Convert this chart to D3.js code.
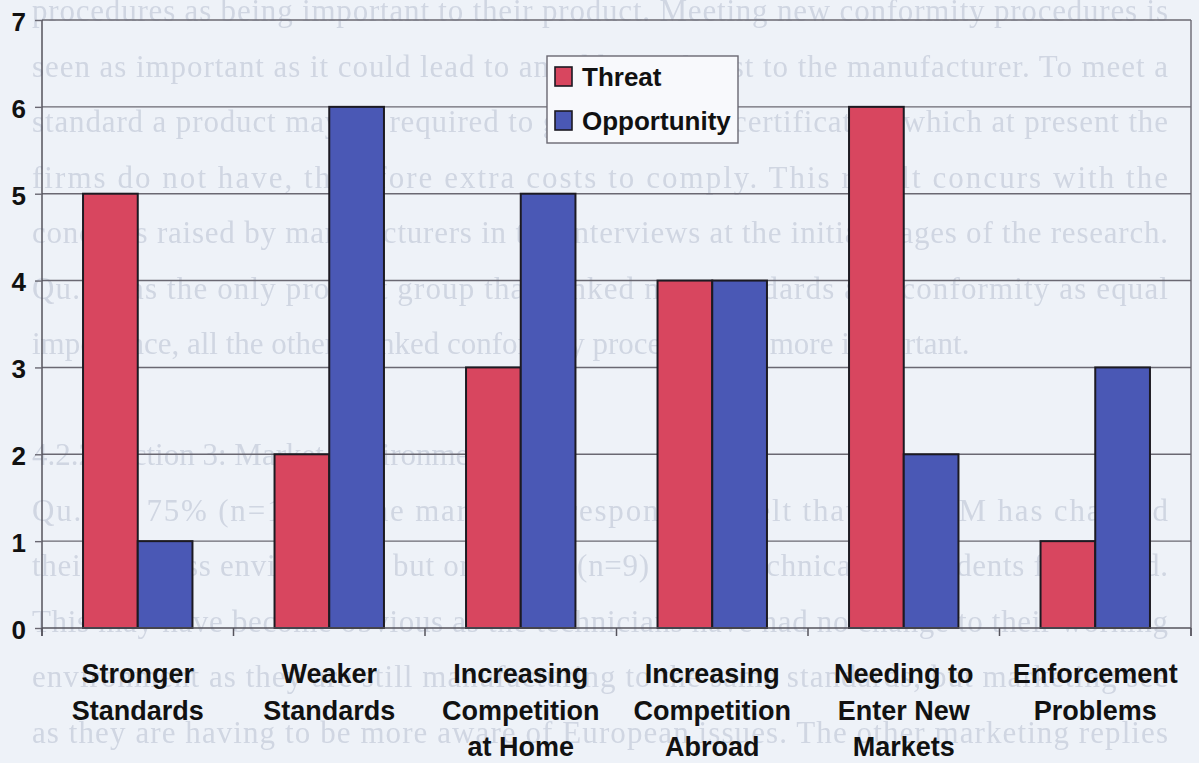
<!DOCTYPE html>
<html>
<head>
<meta charset="utf-8">
<script src="https://cdn.jsdelivr.net/npm/d3@7"></script>
<style>
  html, body { margin: 0; padding: 0; background: #eef2f8; }
  svg { display: block; }
</style>
</head>
<body>
<svg id="chart" width="1199" height="763"></svg>
<script>
// Chart data
const categories = [
  ["Stronger", "Standards"],
  ["Weaker", "Standards"],
  ["Increasing", "Competition", "at Home"],
  ["Increasing", "Competition", "Abroad"],
  ["Needing to", "Enter New", "Markets"],
  ["Enforcement", "Problems"]
];
const seriesNames = ["Threat", "Opportunity"];
const threatValues = [5, 2, 3, 4, 6, 1];
const opportunityValues = [1, 6, 5, 4, 2, 3];
const yTicks = [0, 1, 2, 3, 4, 5, 6, 7];

// Page text printed underneath the chart
const pageLines = [
  "procedures as being important to their product.  Meeting new conformity procedures is",
  "seen as important as it could lead to an additional cost to the manufacturer.  To meet a",
  "standard a product may be required to get additional certification which at present the",
  "firms do not have, therefore extra costs to comply.  This result concurs with the",
  "concerns raised by manufacturers in the interviews at the initial stages of the research.",
  "Qu.3 was the only product group that ranked new standards and conformity as equal",
  "importance, all the others ranked conformity procedures as more important.",
  "",
  "4.2.2  Section 3: Market Environment",
  "Qu. 15.  75% (n=15) of the marketing respondents felt that the SEM has changed",
  "their business environment but only 30% (n=9) of the technical respondents felt it had.",
  "This may have become obvious as the technicians have had no change to their working",
  "environment as they are still manufacturing to the same standards, but marketing see",
  "as they are having to be more aware of European issues.  The other marketing replies"
];
const pageJustified = [true, true, true, true, true, true, false, false, false, true, true, true, true, true];

const colors = { Threat: "#d8465f", Opportunity: "#4a58b5" };

const svg = d3.select("#chart");

const defs = svg.append("defs");
defs.append("filter").attr("id", "soft")
  .append("feGaussianBlur").attr("stdDeviation", 0.7);

// Faint page text layer
const pageG = svg.append("g").attr("class", "page-text").attr("filter", "url(#soft)");
pageLines.forEach((line, i) => {
  if (!line) return;
  const t = pageG.append("text")
    .attr("x", 32)
    .attr("y", 21 + 55.5 * i)
    .attr("font-family", "Liberation Serif, Times New Roman, serif")
    .attr("font-size", 31)
    .attr("fill", "#d0d6e2")
    .text(line);
  if (pageJustified[i]) {
    t.attr("textLength", 1136).attr("lengthAdjust", "spacing");
  }
});

// Scales
const plot = { left: 42, right: 1191, top: 20, bottom: 628 };
const x0 = d3.scaleBand()
  .domain(d3.range(categories.length))
  .range([plot.left, plot.right])
  .paddingInner(0).paddingOuter(0);
const x1 = d3.scaleBand()
  .domain(seriesNames)
  .range([0, x0.bandwidth()])
  .paddingInner(0).paddingOuter(0.75);
const y = d3.scaleLinear().domain([0, 7]).range([plot.bottom, plot.top]);

// Gridlines
svg.append("g")
  .selectAll("line")
  .data(yTicks.filter(d => d > 0))
  .join("line")
  .attr("x1", plot.left).attr("x2", plot.right)
  .attr("y1", d => y(d)).attr("y2", d => y(d))
  .attr("stroke", "#6a6872").attr("stroke-width", 1.4);

// Right border of plot area
svg.append("line")
  .attr("x1", plot.right).attr("x2", plot.right)
  .attr("y1", plot.top).attr("y2", plot.bottom + 8)
  .attr("stroke", "#6a6872").attr("stroke-width", 1.4);

// Bars
const rows = categories.map((c, i) => ({
  i,
  values: [
    { key: "Threat", value: threatValues[i] },
    { key: "Opportunity", value: opportunityValues[i] }
  ]
}));
svg.append("g")
  .selectAll("g")
  .data(rows)
  .join("g")
  .attr("transform", d => `translate(${x0(d.i)},0)`)
  .selectAll("rect")
  .data(d => d.values)
  .join("rect")
  .attr("x", d => x1(d.key))
  .attr("width", x1.bandwidth())
  .attr("y", d => y(d.value))
  .attr("height", d => y(0) - y(d.value))
  .attr("fill", d => colors[d.key])
  .attr("stroke", "#1c1a22")
  .attr("stroke-width", 2);

// Y axis
const yAxis = svg.append("g")
  .attr("transform", `translate(${plot.left},0)`)
  .call(d3.axisLeft(y).tickValues(yTicks).tickSize(7).tickFormat(d3.format("d")));
yAxis.select(".domain")
  .attr("stroke", "#55535c").attr("stroke-width", 1.5)
  .attr("d", `M0,${plot.top}V${plot.bottom + 8}`);
yAxis.selectAll(".tick line").attr("stroke", "#6a6872").attr("stroke-width", 1.4);
yAxis.selectAll(".tick text")
  .attr("x", -16)
  .attr("dy", "0.4em")
  .attr("font-family", "Liberation Sans, Arial, sans-serif")
  .attr("font-weight", "bold")
  .attr("font-size", 26)
  .attr("fill", "#111");

// X axis: baseline, boundary ticks, wrapped category labels
const xg = svg.append("g");
xg.append("line")
  .attr("x1", plot.left).attr("x2", plot.right)
  .attr("y1", y(0)).attr("y2", y(0))
  .attr("stroke", "#55535c").attr("stroke-width", 1.5);
const bounds = d3.range(categories.length + 1).map(i =>
  i < categories.length ? x0(i) : x0(categories.length - 1) + x0.bandwidth());
xg.selectAll("line.tick")
  .data(bounds)
  .join("line")
  .attr("class", "tick")
  .attr("x1", d => d).attr("x2", d => d)
  .attr("y1", y(0)).attr("y2", y(0) + 8)
  .attr("stroke", "#55535c").attr("stroke-width", 1.5);
const labels = xg.selectAll("text.cat")
  .data(categories)
  .join("text")
  .attr("class", "cat")
  .attr("text-anchor", "middle")
  .attr("font-family", "Liberation Sans, Arial, sans-serif")
  .attr("font-weight", "bold")
  .attr("font-size", 27)
  .attr("fill", "#111");
labels.each(function (lines, i) {
  const cx = x0(i) + x0.bandwidth() / 2;
  d3.select(this).selectAll("tspan")
    .data(lines)
    .join("tspan")
    .attr("x", cx)
    .attr("y", (d, k) => 683 + k * 36.5)
    .text(d => d);
});

// Legend
const legend = svg.append("g").attr("transform", "translate(547,56)");
legend.append("rect")
  .attr("width", 191).attr("height", 87)
  .attr("fill", "#f8f9fc")
  .attr("stroke", "#6a6872").attr("stroke-width", 1.4);
const items = legend.selectAll("g.item")
  .data(seriesNames)
  .join("g")
  .attr("class", "item")
  .attr("transform", (d, i) => `translate(8,${11 + i * 44})`);
items.append("rect")
  .attr("width", 17).attr("height", 19)
  .attr("fill", d => colors[d])
  .attr("stroke", "#1c1a22").attr("stroke-width", 1.6);
items.append("text")
  .attr("x", 27).attr("y", 19)
  .attr("font-family", "Liberation Sans, Arial, sans-serif")
  .attr("font-weight", "bold")
  .attr("font-size", 26)
  .attr("fill", "#111")
  .text(d => d);
</script>
</body>
</html>
